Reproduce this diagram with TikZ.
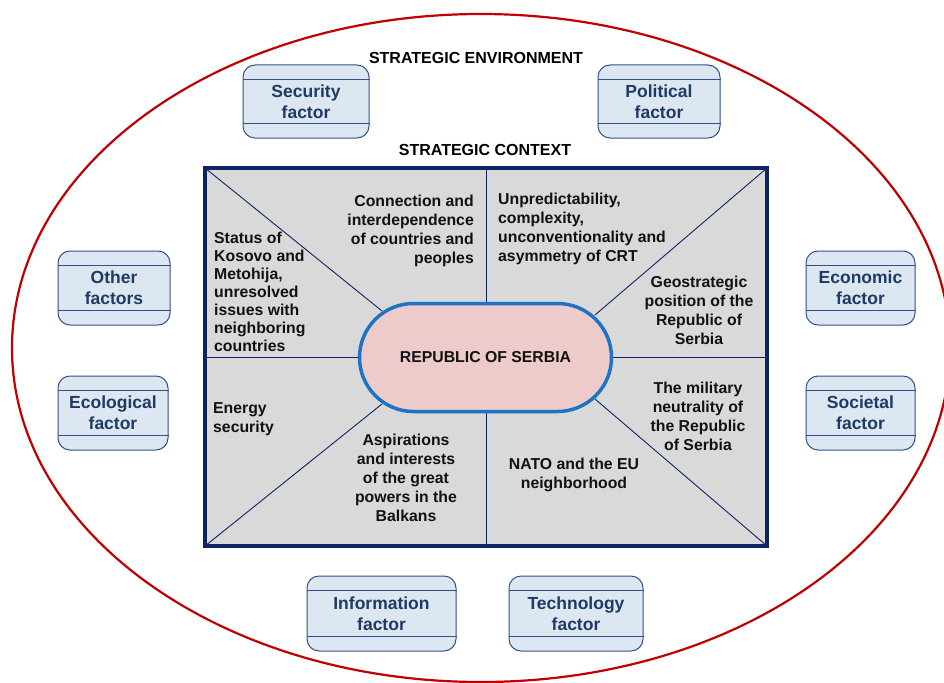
\documentclass[tikz,border=0pt]{standalone}
\usepackage{fontspec}
\setmainfont{Liberation Sans}
\usetikzlibrary{shapes.misc,calc}
\definecolor{envred}{HTML}{C00000}
\definecolor{ctxnavy}{HTML}{0C2462}
\definecolor{fbfill}{HTML}{DDE7F2}
\definecolor{fbdraw}{HTML}{34508A}
\definecolor{fbtext}{HTML}{1F3A64}
\definecolor{ctxfill}{HTML}{D9D9D9}
\definecolor{pillfill}{HTML}{EDCBCB}
\definecolor{pilldraw}{HTML}{1E74C4}
\definecolor{txt}{HTML}{111111}
\tikzset{
  fbox/.style={draw=fbdraw, line width=1pt, fill=fbfill, rounded corners=12pt,
    font=\bfseries\fontsize{17.5}{21}\selectfont, text=fbtext, align=center, inner sep=0pt},
  ctxt/.style={font=\bfseries\fontsize{15.8}{19}\selectfont, text=txt, inner sep=0pt},
  ttl/.style={font=\bfseries\fontsize{16}{19}\selectfont, text=black, inner sep=0pt},
  thin/.style={draw=ctxnavy, line width=0.9pt}
}
\newcommand{\fband}[1]{%
  \draw[fbdraw, line width=1pt] ([yshift=-15pt]#1.north west) -- ([yshift=-15pt]#1.north east);
  \draw[fbdraw, line width=1pt] ([yshift=15pt]#1.south west) -- ([yshift=15pt]#1.south east);}
\begin{document}
\begin{tikzpicture}[x=1pt,y=-1pt]
\useasboundingbox (0,0) rectangle (944,682);
\draw[envred, line width=2.2pt] (481,348) ellipse [x radius=469pt, y radius=334pt];

\node[ttl] (envt) at (476,58) {STRATEGIC ENVIRONMENT};
\node[ttl] (ctxt) at (485,150) {STRATEGIC CONTEXT};

% factor boxes
\node[fbox, minimum width=126pt, minimum height=73pt] (sec) at (306,101.5) {Security\\factor};
\node[fbox, minimum width=122pt, minimum height=73pt] (pol) at (659,101.5) {Political\\factor};
\node[fbox, minimum width=112pt, minimum height=74pt] (oth) at (114,288) {Other\\factors};
\node[fbox, minimum width=109pt, minimum height=74pt] (eco) at (860.5,288) {Economic\\factor};
\node[fbox, minimum width=110pt, minimum height=74pt] (ecl) at (113,413) {Ecological\\factor};
\node[fbox, minimum width=109pt, minimum height=74pt] (soc) at (860.5,413) {Societal\\factor};
\node[fbox, minimum width=149pt, minimum height=75pt] (inf) at (381.5,613.5) {Information\\factor};
\node[fbox, minimum width=134pt, minimum height=75pt] (tec) at (576,613.5) {Technology\\factor};
\fband{sec}\fband{pol}\fband{oth}\fband{eco}\fband{ecl}\fband{soc}\fband{inf}\fband{tec}

% context rectangle
\node[draw=ctxnavy, line width=4pt, fill=ctxfill, minimum width=562pt, minimum height=378pt, inner sep=0pt] (ctx) at (486,357) {};
\draw[thin] (ctx.north) -- (ctx.south);
\draw[thin] (ctx.west) -- (ctx.east);
\coordinate (dnw) at (382,311);
\coordinate (dsw) at (382,404);
\coordinate (dne) at (595,315);
\coordinate (dse) at (595,399);
\draw[thin] ([shift={(2pt,-2pt)}]ctx.north west) -- (dnw);
\draw[thin] ([shift={(2pt,2pt)}]ctx.south west) -- (dsw);
\draw[thin] ([shift={(-2pt,-2pt)}]ctx.north east) -- (dne);
\draw[thin] ([shift={(-2pt,2pt)}]ctx.south east) -- (dse);

\node[rounded rectangle, draw=pilldraw, line width=3.5pt, fill=pillfill, minimum width=252pt, minimum height=108pt, inner sep=0pt, font=\bfseries\fontsize{15.8}{19}\selectfont, text=txt] (rs) at (485.5,357.5) {REPUBLIC OF SERBIA};

% context texts
\node[ctxt, align=right, anchor=north east] (conn) at (474,195) {Connection and\\interdependence\\of countries and\\peoples};
\node[ctxt, align=left, anchor=north west, font=\bfseries\fontsize{15.8}{18}\selectfont] (stat) at (214,232) {Status of\\Kosovo and\\Metohija,\\unresolved\\issues with\\neighboring\\countries};
\node[ctxt, align=left, anchor=north west] (unp) at (498,193) {Unpredictability,\\complexity,\\unconventionality and\\asymmetry of CRT};
\node[ctxt, align=center, anchor=north] (geo) at (699,276) {Geostrategic\\position of the\\Republic of\\Serbia};
\node[ctxt, align=left, anchor=north west] (ene) at (213,402) {Energy\\security};
\node[ctxt, align=center, anchor=north] (asp) at (406,434) {Aspirations\\and interests\\of the great\\powers in the\\Balkans};
\node[ctxt, align=center, anchor=north] (mil) at (698,382) {The military\\neutrality of\\the Republic\\of Serbia};
\node[ctxt, align=center, anchor=north] (nato) at (574,458) {NATO and the EU\\neighborhood};
\end{tikzpicture}
\end{document}
